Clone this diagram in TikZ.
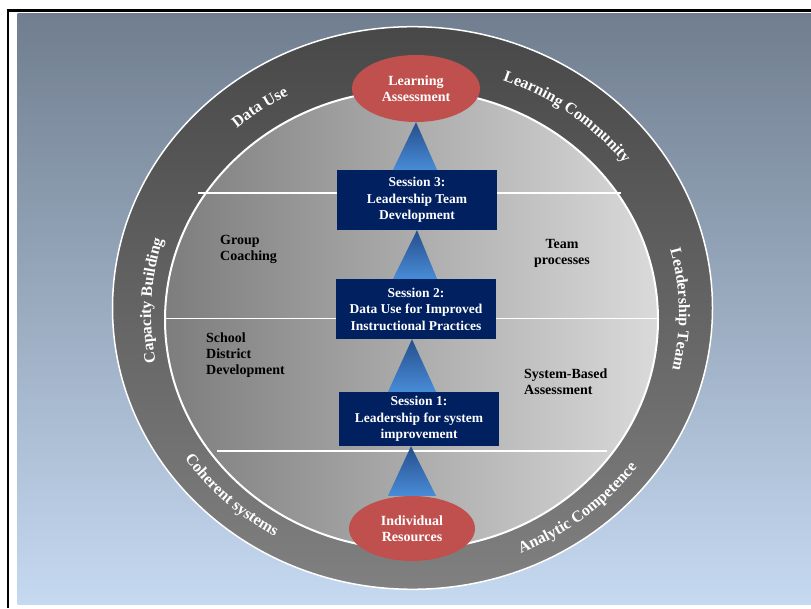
\documentclass[tikz,border=0pt]{standalone}
\usepackage{fontspec}
\setmainfont{Liberation Serif}
\usetikzlibrary{shapes.geometric,calc,decorations.text,backgrounds}
\definecolor{panelTop}{RGB}{112,126,143}
\definecolor{panelBot}{RGB}{197,217,241}
\definecolor{ringTop}{RGB}{72,72,72}
\definecolor{ringBot}{RGB}{128,128,128}
\definecolor{innerL}{RGB}{125,125,125}
\definecolor{innerR}{RGB}{218,218,218}
\definecolor{navy}{RGB}{0,32,96}
\definecolor{redc}{RGB}{192,80,77}
\definecolor{triTop}{RGB}{38,78,140}
\definecolor{triBot}{RGB}{72,140,215}
\newcommand\ringfont{\color{white}\bfseries\fontsize{16}{16}\selectfont}
\begin{document}
\begin{tikzpicture}[x=1pt,y=1pt,
  sbox/.style={fill=navy, text=white, font=\bfseries\fontsize{13.5}{16.5}\selectfont, align=center, minimum width=160pt, inner sep=0pt},
  redell/.style={ellipse, fill=redc, text=white, font=\bfseries\fontsize{14}{16}\selectfont, align=center, inner sep=0pt},
  lbl/.style={text=black, font=\bfseries\fontsize{14}{16}\selectfont, inner sep=0pt},
  chord/.style={white, line width=1.8pt},
  tri/.style={top color=triTop, bottom color=triBot},
  ringlbl/.style={decorate, decoration={text along path, text align=center, text={|\ringfont|#1}}}
]
\useasboundingbox (0,0) rectangle (811,608);

% nodes
\node[redell, minimum width=128pt, minimum height=67pt] (LA) at (416,519.5) {Learning\\Assessment};
\node[redell, minimum width=126pt, minimum height=65pt] (IR) at (412,79.5) {Individual\\Resources};
\node[sbox, minimum height=60pt] (S3) at (417,408) {Session 3:\\Leadership Team\\Development};
\node[sbox, minimum height=60pt] (S2) at (416,299) {Session 2:\\Data Use for Improved\\Instructional Practices};
\node[sbox, minimum height=54pt] (S1) at (419,189) {Session 1:\\Leadership for system\\improvement};
\node[lbl, anchor=west, align=left] (GC) at (220,358.3) {Group\\Coaching};
\node[lbl, anchor=west, align=left] (SD) at (206,253) {School\\District\\Development};
\node[lbl, align=center] (TP) at (562,355) {Team\\processes};
\node[lbl, anchor=west, align=left] (SB) at (524,226.7) {System-Based\\Assessment};

\begin{scope}[on background layer]
  \fill[white] (0,0) rectangle (811,608);
  \shade[top color=panelTop, bottom color=panelBot] (17.7,3.7) rectangle (811,594);
  \draw[black, line width=2.2pt] (8.3,0) -- (8.3,597.5) -- (811,597.5);
  % ring
  \shadedraw[top color=ringTop, bottom color=ringBot, draw=white, line width=1.5pt]
    (412.5,300) ellipse [x radius=300pt, y radius=281.3pt];
  \shadedraw[left color=innerL, right color=innerR, draw=white, line width=2pt]
    (411.5,288.3) ellipse [x radius=246.5pt, y radius=229.7pt];
  % chords
  \draw[chord] (198,415) -- (621,415);
  \draw[chord] (164,289.5) -- (658,289.5);
  \draw[chord] (217,157) -- (607,157);
  % ring labels
  \begin{scope}[shift={(412,294.25)}]
    \path[ringlbl={Data Use}] (155:265pt and 247pt) arc[start angle=155, end angle=95, x radius=265pt, y radius=247pt];
    \path[ringlbl={Learning Community}] (93:266pt and 248pt) arc[start angle=93, end angle=13, x radius=266pt, y radius=248pt];
    \path[ringlbl={Capacity Building}] (215:261pt and 247pt) arc[start angle=215, end angle=139, x radius=261pt, y radius=247pt];
    \path[ringlbl={Leadership Team}] (39:267pt and 247pt) arc[start angle=39, end angle=-37, x radius=267pt, y radius=247pt];
    \path[ringlbl={Coherent systems}] (188:275pt and 257pt) arc[start angle=188, end angle=265, x radius=275pt, y radius=257pt];
    \path[ringlbl={Analytic Competence}] (271:279pt and 260pt) arc[start angle=271, end angle=347, x radius=279pt, y radius=260pt];
  \end{scope}
  % connectors (triangles)
  \shade[tri] (LA.south) -- ($(S3.north)+(-24,0)$) -- ($(S3.north)+(20,0)$) -- cycle;
  \shade[tri] (S3.south) -- ($(S2.north)+(-23,0)$) -- ($(S2.north)+(21,0)$) -- cycle;
  \shade[tri] ($(S2.south)+(-4,0)$) -- ($(S1.north)+(-31,0)$) -- ($(S1.north)+(17,0)$) -- cycle;
  \shade[tri] ($(S1.south)+(-8,0)$) -- ($(IR.north)+(-24,0)$) -- ($(IR.north)+(24,0)$) -- cycle;
\end{scope}
\end{tikzpicture}
\end{document}
